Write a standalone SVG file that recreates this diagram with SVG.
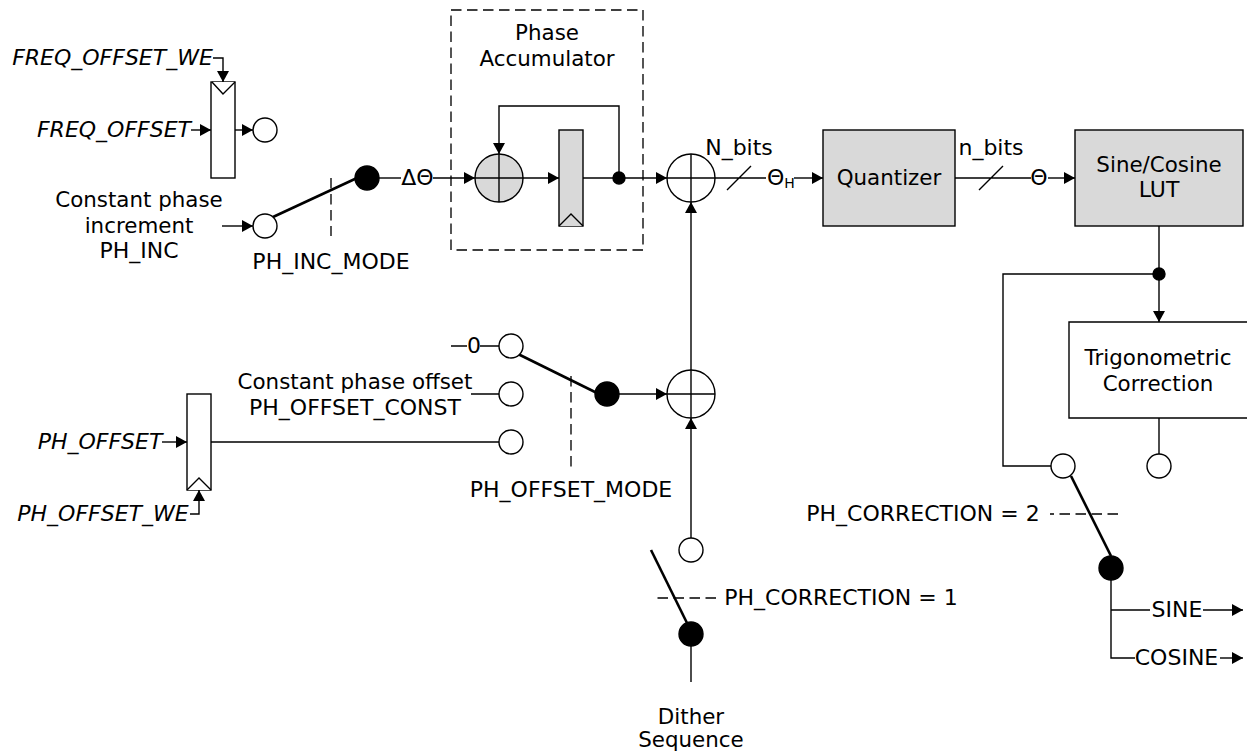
<svg xmlns="http://www.w3.org/2000/svg" width="1247" height="752" viewBox="0 0 1247 752">
<style>
text{font-family:"DejaVu Sans","Liberation Sans",sans-serif;font-size:22px;fill:#000;text-anchor:middle}
text.t{font-size:21.4px}
.i{font-style:italic}
.w{fill:#fff;stroke:#000;stroke-width:1.4}
.g{fill:#d9d9d9;stroke:#000;stroke-width:1.4}
.b{fill:#000;stroke:#000;stroke-width:1.4}
.l{fill:none;stroke:#000;stroke-width:1.4}
.a{fill:none;stroke:#000;stroke-width:1.4;marker-end:url(#h)}
.s{fill:none;stroke:#000;stroke-width:2.6}
.d{fill:none;stroke:#000;stroke-width:1.33;stroke-dasharray:10.5 5.5}
</style>
<defs><marker id="h" markerUnits="userSpaceOnUse" markerWidth="12" markerHeight="12" refX="11" refY="6" orient="auto"><path d="M0,0L11,6L0,12Z" fill="#000"/></marker></defs>
<g id="connectors">
<path class="a" d="M213,58H223V82"/>
<path class="a" d="M191,130H211"/>
<path class="a" d="M235,130H253"/>
<path class="a" d="M222,226H253"/>
<path class="s" d="M273,217L357,178"/>
<path class="d" d="M331,178V236"/>
<path class="l" d="M379,178H401"/>
<path class="a" d="M433,178H475"/>
<path class="a" d="M523,178H559"/>
<path class="l" d="M583,178H619"/>
<path class="a" d="M619,178V106H499V154"/>
<path class="a" d="M619,178H667"/>
<path class="l" d="M715,178H766M727,190L751,166"/>
<path class="a" d="M794,178H823"/>
<path class="l" d="M955,178H1031M979,190L1003,166"/>
<path class="a" d="M1048,178H1075"/>
<path class="a" d="M1159,226V322"/>
<path class="l" d="M1159,274H1003V466H1051"/>
<path class="l" d="M1159,418V454"/>
<path class="s" d="M1071,476L1111,556"/>
<path class="d" d="M1118,514H1050"/>
<path class="l" d="M1111,580V658H1135M1111,610H1150"/>
<path class="a" d="M1203,610H1243"/>
<path class="a" d="M1220,658H1243"/>
<path class="l" d="M451,346H467M480,346H499M471,394H499M211,442H499"/>
<path class="s" d="M518,354L597,393"/>
<path class="d" d="M571,376V472"/>
<path class="a" d="M619,394H667"/>
<path class="a" d="M691,370V202"/>
<path class="a" d="M691,538V418"/>
<path class="s" d="M651,550L687,623"/>
<path class="d" d="M716,598H657"/>
<path class="l" d="M691,646V682"/>
<path class="a" d="M162,442H187"/>
<path class="a" d="M190,514H199V490"/>
<path class="d" d="M451,10H643V250H451Z"/>
</g>
<g id="freq-register"><rect class="w" x="211" y="82" width="24" height="96"/><path class="w" d="M212,82L223,94L235,82"/></g>
<g id="freq-output"><circle class="w" cx="265" cy="130" r="12"/></g>
<g id="ph-inc-input"><circle class="w" cx="265" cy="226" r="12"/></g>
<g id="ph-inc-pivot"><circle class="b" cx="367" cy="178" r="12"/></g>
<g id="accumulator-adder"><circle class="g" cx="499" cy="178" r="24"/><path class="l" d="M475,178H523M499,154V202"/></g>
<g id="accumulator-register"><rect class="g" x="559" y="130" width="24" height="96"/><path class="g" d="M559,226L571,214L583,226"/></g>
<g id="feedback-dot"><circle class="b" cx="619" cy="178" r="6"/></g>
<g id="main-adder"><circle class="w" cx="691" cy="178" r="24"/><path class="l" d="M667,178H715M691,154V202"/></g>
<g id="quantizer"><rect class="g" x="823" y="130" width="132" height="96"/><text class="t" x="889" y="185">Quantizer</text></g>
<g id="lut"><rect class="g" x="1075" y="130" width="168" height="96"/><text class="t" x="1159" y="172">Sine/Cosine</text><text x="1159" y="197">LUT</text></g>
<g id="lut-dot"><circle class="b" cx="1159" cy="274" r="6"/></g>
<g id="trig"><path class="w" d="M1250,322H1069V418H1250"/><text class="t" x="1158" y="365">Trigonometric</text><text class="t" x="1158" y="391">Correction</text></g>
<g id="corr-a"><circle class="w" cx="1063" cy="466" r="12"/></g>
<g id="corr-b"><circle class="w" cx="1159" cy="466" r="12"/></g>
<g id="corr-pivot"><circle class="b" cx="1111" cy="568" r="12"/></g>
<g id="off-a"><circle class="w" cx="511" cy="346" r="12"/></g>
<g id="off-b"><circle class="w" cx="511" cy="394" r="12"/></g>
<g id="off-c"><circle class="w" cx="511" cy="442" r="12"/></g>
<g id="off-pivot"><circle class="b" cx="607" cy="394" r="12"/></g>
<g id="offset-adder"><circle class="w" cx="691" cy="394" r="24"/><path class="l" d="M667,394H715M691,370V418"/></g>
<g id="dither-a"><circle class="w" cx="691" cy="550" r="12"/></g>
<g id="dither-pivot"><circle class="b" cx="691" cy="634" r="12"/></g>
<g id="offset-register"><rect class="w" x="187" y="394" width="24" height="96"/><path class="w" d="M187,490L199,478L211,490"/></g>
<g id="labels">
<text class="i" x="112.5" y="65">FREQ_OFFSET_WE</text>
<text class="i" x="114" y="137">FREQ_OFFSET</text>
<text class="t" x="139" y="207">Constant phase</text>
<text class="t" x="139" y="233">increment</text>
<text x="139" y="258">PH_INC</text>
<text x="331" y="269">PH_INC_MODE</text>
<text x="417.5" y="185">ΔΘ</text>
<text class="t" x="547" y="40">Phase</text>
<text class="t" x="547" y="66">Accumulator</text>
<text x="739" y="155">N_bits</text>
<text x="767" y="185" style="text-anchor:start">Θ<tspan dy="3" font-size="14">H</tspan></text>
<text x="991" y="155">n_bits</text>
<text x="1039" y="185">Θ</text>
<text x="474" y="353">0</text>
<text class="t" x="355" y="389">Constant phase offset</text>
<text x="355" y="415">PH_OFFSET_CONST</text>
<text class="i" x="100" y="449">PH_OFFSET</text>
<text class="i" x="103" y="521">PH_OFFSET_WE</text>
<text x="571" y="497">PH_OFFSET_MODE</text>
<text x="841" y="605">PH_CORRECTION = 1</text>
<text x="923" y="521">PH_CORRECTION = 2</text>
<text class="t" x="691" y="724">Dither</text>
<text class="t" x="691" y="747">Sequence</text>
<text x="1177" y="617">SINE</text>
<text x="1176.5" y="665">COSINE</text>
</g>
</svg>
